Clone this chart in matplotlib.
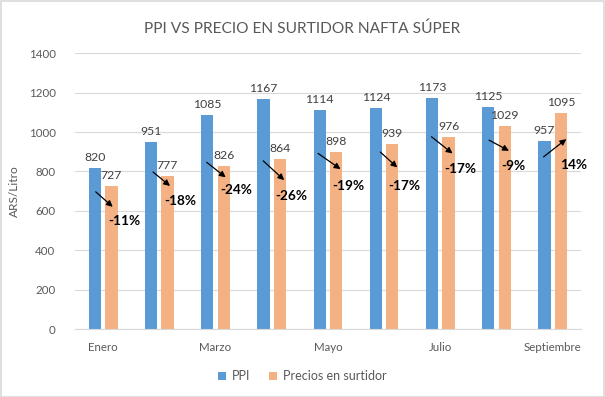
import matplotlib
matplotlib.use("Agg")
import matplotlib.pyplot as plt
import numpy as np
from matplotlib.patches import Rectangle
from matplotlib.transforms import offset_copy

# data
months = ["Enero", "Febrero", "Marzo", "Abril", "Mayo", "Junio",
          "Julio", "Agosto", "Septiembre"]
ppi = [820, 951, 1085, 1167, 1114, 1124, 1173, 1125, 957]
surtidor = [727, 777, 826, 864, 898, 939, 976, 1029, 1095]
pct_labels = ["-11%", "-18%", "-24%", "-26%", "-19%", "-17%", "-17%", "-9%", "14%"]

# hand-placed arrows / % labels, in pixels relative to the top of the orange bar
# (start dx, start dy, end dx, end dy, text dx, text dy), dy measured downward
arrow_layout = [
    (-15.6, 6, 1.4, 21, 13, 35),
    (-14.5, -4, 2.5, 10, 12.5, 25),
    (-17, -4, 2, 11, 12, 24),
    (-16.7, 2, 4.3, 21.3, 11, 37),
    (-18, 1.3, 4.4, 17, 11.7, 33.7),
    (-12, 8, 5, 23.4, 11.5, 41.8),
    (-17, 0, 4, 16.7, 12.2, 32.7),
    (-15.7, 13.8, 4.3, 24.5, 9, 39.5),
    (-17.3, 43.5, 5.4, 25.8, 12.4, 51.8),
]

BLUE = "#5B9BD5"
ORANGE = "#F4B183"
GRAY = "#595959"
GRID = "#D9D9D9"

plt.rcParams["font.family"] = ["Lato", "DejaVu Sans"]

fig = plt.figure(figsize=(6.05, 3.97), dpi=100)
ax = fig.add_axes([0.124, 0.171, 0.836, 0.695])

x = np.arange(len(months))
w = 0.22
off = 0.146
ax.bar(x - off, ppi, w, color=BLUE, label="PPI", zorder=2)
ax.bar(x + off, surtidor, w, color=ORANGE, label="Precios en surtidor", zorder=2)

for xi, v in zip(x, ppi):
    ax.annotate(str(v), (xi - off, v), xytext=(0, 7), textcoords="offset pixels",
                ha="center", va="baseline", fontsize=8.8, color="#404040")
for xi, v in zip(x, surtidor):
    ax.annotate(str(v), (xi + off, v), xytext=(0, 7), textcoords="offset pixels",
                ha="center", va="baseline", fontsize=8.8, color="#404040")

for xi, v, lab, (sx, sy, ex, ey, tx, ty) in zip(x, surtidor, pct_labels, arrow_layout):
    ax.annotate("", xy=(xi + off, v),
                xycoords=offset_copy(ax.transData, fig=fig, x=ex, y=-ey, units="dots"),
                xytext=(xi + off, v),
                textcoords=offset_copy(ax.transData, fig=fig, x=sx, y=-sy, units="dots"),
                arrowprops=dict(arrowstyle="-|>", color="black", lw=0.9,
                                mutation_scale=9, shrinkA=0, shrinkB=0),
                zorder=4)
    ax.annotate(lab, (xi + off, v), xytext=(tx, -ty), textcoords="offset pixels",
                ha="center", va="center", fontsize=9.8, fontweight="bold",
                color="black", zorder=5)

ax.set_xlim(-0.5, len(months) - 0.5)
ax.set_ylim(0, 1400)
ax.set_yticks(range(0, 1401, 200))
ax.set_xticks(x)
ax.set_xticklabels([m if i % 2 == 0 else "" for i, m in enumerate(months)])
ax.tick_params(axis="both", length=0, colors=GRAY, labelsize=8.3)
ax.tick_params(axis="x", pad=9)
ax.tick_params(axis="y", pad=14)
ax.grid(axis="y", color=GRID, lw=0.8, zorder=0)
for s in ["top", "right", "left"]:
    ax.spines[s].set_visible(False)
ax.spines["bottom"].set_color(GRID)
ax.spines["bottom"].set_linewidth(0.8)

ax.set_ylabel("ARS/Litro", color=GRAY, fontsize=8.6, labelpad=6)
fig.suptitle("PPI VS PRECIO EN SURTIDOR NAFTA SÚPER", y=0.945, fontsize=11.2,
             color=GRAY)

ax.legend(loc="center", bbox_to_anchor=(0.5, 0.052), bbox_transform=fig.transFigure,
          ncol=2, frameon=False, fontsize=9, labelcolor=GRAY,
          handlelength=0.6, handleheight=0.6, handletextpad=0.5, columnspacing=1.5)

fig.patches.append(Rectangle((0.001, 0.001), 0.998, 0.997, transform=fig.transFigure,
                             fill=False, edgecolor=GRID, lw=1.2))

fig.savefig("out.png", dpi=100)
